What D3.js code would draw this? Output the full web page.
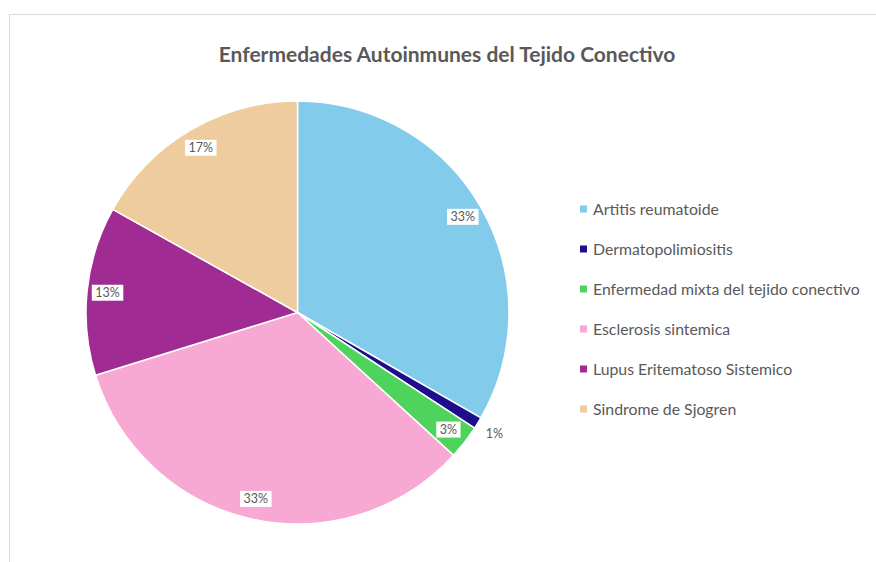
<!DOCTYPE html>
<html><head><meta charset="utf-8">
<script src="https://cdn.jsdelivr.net/npm/d3@7"></script>
<style>body{margin:0;background:#fff}svg{display:block}</style>
</head><body>
<svg id="c" width="876" height="562"></svg>
<script>
const categories = ["Artitis reumatoide","Dermatopolimiositis","Enfermedad mixta del tejido conectivo","Esclerosis sintemica","Lupus Eritematoso Sistemico","Sindrome de Sjogren"];
const values = [33.3, 0.9, 2.6, 33.4, 12.9, 16.9];
const colors = ["#83CBEB","#1E0E8E","#4ED35C","#F7A9D3","#A02B93","#EECC9E"];
const title = "Enfermedades Autoinmunes del Tejido Conectivo";

const svg = d3.select("#c");
const font = "Lato, 'Open Sans', sans-serif";
svg.append("rect").attr("x",9.5).attr("y",14.5).attr("width",900).attr("height",600)
  .attr("fill","#fff").attr("stroke","#d9d9d9").attr("stroke-width",1);

const t = svg.append("text").attr("x",447).attr("y",62).attr("text-anchor","middle")
  .attr("font-family",font).attr("font-weight","bold").attr("font-size",19)
  .attr("fill","#595959").text(title);
const tw = t.node().getComputedTextLength();
t.attr("font-size", 19*457/tw);

const cx=297.5, cy=312.5, r=211.5;
const g = svg.append("g").attr("transform",`translate(${cx},${cy})`);
const pie = d3.pie().sort(null).value(d=>d)(values);
const arc = d3.arc().innerRadius(0).outerRadius(r);
g.selectAll("path").data(pie).join("path").attr("d",arc)
  .attr("fill",(d,i)=>colors[i]).attr("stroke","#fff").attr("stroke-width",1.5).attr("stroke-linejoin","round");

const total = d3.sum(values);
pie.forEach((d,i)=>{
  const small = (d.endAngle-d.startAngle) < 0.1;
  const lr = small ? 231 : 191;
  const a = (d.startAngle+d.endAngle)/2;
  const x = lr*Math.sin(a), y = -lr*Math.cos(a);
  const lab = Math.round(d.value/total*100)+"%";
  const lg = g.append("g").attr("transform",`translate(${x},${y})`);
  const tx = lg.append("text").attr("text-anchor","middle").attr("dy","0.36em")
    .attr("font-family",font).attr("font-size",12.5).attr("fill","#595959").text(lab);
  const w = tx.node().getComputedTextLength();
  if(!small){
    lg.insert("rect","text").attr("x",-w/2-3.5).attr("y",-8).attr("width",w+7).attr("height",16).attr("fill","#fff");
  }
});

const leg = svg.append("g");
categories.forEach((c,i)=>{
  const y = 209 + i*40;
  leg.append("rect").attr("x",580).attr("y",y-3.5).attr("width",7).attr("height",7).attr("fill",colors[i]);
  leg.append("text").attr("class","lt").attr("x",593).attr("y",y).attr("dy","0.36em")
    .attr("font-family",font).attr("font-size",14).attr("fill","#595959").text(c);
});
const lw = leg.selectAll(".lt").nodes()[2].getComputedTextLength();
leg.selectAll(".lt").attr("font-size",14*267/lw);
</script>
</body></html>
